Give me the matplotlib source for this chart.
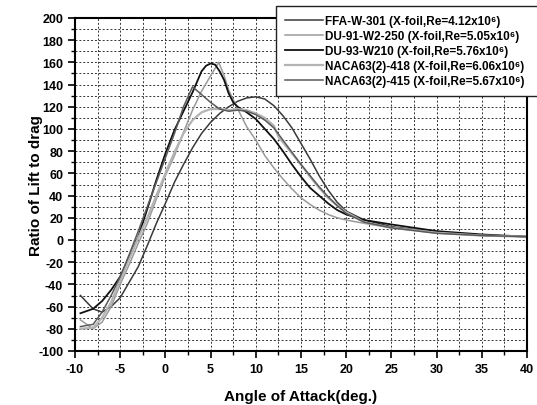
import matplotlib.pyplot as plt
from matplotlib.ticker import MultipleLocator

plt.rcParams["font.family"] = ["Liberation Sans", "DejaVu Sans"]
plt.rcParams["font.weight"] = "bold"
plt.rcParams["axes.unicode_minus"] = False

# angle of attack (deg.) and lift/drag ratio
ffa_alpha = [-9.4, -8, -7, -6, -5, -4, -3, -2, -1, 0, 1, 2, 3, 4, 5, 6, 7, 8, 9,
             10, 11, 12, 13, 14, 15, 16, 17, 18, 19, 20, 22, 25, 30, 35, 40]
ffa_ld = [-50, -62, -65, -60, -52, -38, -24, -5, 15, 33, 52, 68, 83, 96, 106, 114,
          120, 125, 128, 129, 127, 121, 112, 101, 87, 73, 58, 45, 34, 26, 18, 12,
          7, 4.5, 3]

du91_alpha = [-9.4, -8, -7, -6, -5, -4, -3, -2, -1, 0, 1, 2, 3, 4, 5, 5.9, 6.5,
              7, 8, 9, 10, 11, 12, 13, 14, 15, 16, 17, 18, 19, 20, 22, 25, 30, 35, 40]
du91_ld = [-72, -80, -74, -60, -40, -22, -3, 15, 37, 58, 76, 97, 117, 134, 148,
           160, 148, 135, 118, 102, 90, 76, 65, 55, 46, 38, 32, 27, 23, 20, 18,
           15, 11, 7, 4, 3]

du93_alpha = [-9.4, -8, -7, -6, -5, -4, -3, -2, -1, 0, 1, 2, 3, 4, 4.5, 5, 5.5,
              6, 6.5, 7, 7.5, 8, 9, 10, 11, 12, 13, 14, 15, 16, 17, 18, 19, 20,
              22, 25, 30, 35, 40]
du93_ld = [-66, -62, -55, -45, -33, -16, 3, 28, 54, 78, 99, 116, 133, 152, 157,
           159, 158, 152, 144, 132, 124, 120, 115, 109, 100, 91, 80, 68, 57, 47,
           40, 33, 27, 23, 18, 14, 8, 5, 3]

naca418_alpha = [-9.4, -8, -7, -6, -5, -4, -3, -2, -1, 0, 1, 2, 3, 4, 5, 6, 7, 8,
                 9, 10, 11, 12, 12.5, 13, 14, 15, 16, 17, 18, 19, 20, 22, 25, 30,
                 35, 40]
naca418_ld = [-80, -79, -70, -56, -36, -17, 2, 20, 40, 60, 79, 96, 108, 115, 118,
              118, 117, 118, 117, 114, 110, 103, 93, 88, 78, 68, 57, 47, 38, 31,
              25, 16, 11, 6.5, 4, 3]

naca415_alpha = [-9.4, -8, -7, -6, -5, -4, -3, -2, -1, 0, 1, 2, 3, 4, 5, 6, 7, 8,
                 9, 10, 11, 12, 13, 14, 15, 16, 17, 18, 19, 20, 22, 25, 30, 35, 40]
naca415_ld = [-78, -76, -65, -50, -33, -13, 8, 30, 52, 74, 96, 120, 138, 131, 124,
              118, 116, 117, 116, 113, 108, 101, 90, 79, 68, 58, 48, 39, 31, 24,
              16, 11, 6, 4, 3]

labels = [
    "FFA-W-301 (X-foil,Re=4.12x10⁶)",
    "DU-91-W2-250 (X-foil,Re=5.05x10⁶)",
    "DU-93-W210 (X-foil,Re=5.76x10⁶)",
    "NACA63(2)-418 (X-foil,Re=6.06x10⁶)",
    "NACA63(2)-415 (X-foil,Re=5.67x10⁶)",
]
colors = ["#3a3a3a", "#9a9a9a", "#111111", "#b4b4b4", "#5a5a5a"]
widths = [1.1, 1.1, 1.3, 1.6, 1.1]

series = [
    (ffa_alpha, ffa_ld),
    (du91_alpha, du91_ld),
    (du93_alpha, du93_ld),
    (naca418_alpha, naca418_ld),
    (naca415_alpha, naca415_ld),
]

fig = plt.figure(figsize=(5.37, 4.06), dpi=100)
ax = fig.add_axes([75 / 537, 54 / 406, 452 / 537, 333 / 406])

lines = []
for (x, y), label, color, lw in zip(series, labels, colors, widths):
    (line,) = ax.plot(x, y, color=color, lw=lw, label=label)
    lines.append(line)

ax.set_xlim(-10, 40)
ax.set_ylim(-100, 200)
ax.xaxis.set_major_locator(MultipleLocator(5))
ax.xaxis.set_minor_locator(MultipleLocator(2.5))
ax.yaxis.set_major_locator(MultipleLocator(20))
ax.yaxis.set_minor_locator(MultipleLocator(10))
ax.grid(which="both", color="#333333", linestyle=(0, (2, 2)), linewidth=0.7)
ax.set_axisbelow(True)

ax.tick_params(which="major", direction="out", length=5, width=1.2, labelsize=9)
ax.tick_params(which="minor", direction="out", length=3, width=1.0)
for lab in ax.get_xticklabels() + ax.get_yticklabels():
    lab.set_fontweight("bold")
for spine in ax.spines.values():
    spine.set_linewidth(1.5)

ax.set_xlabel("Angle of Attack(deg.)", fontsize=11, fontweight="bold", labelpad=10)
ax.set_ylabel("Ratio of Lift to drag", fontsize=11, fontweight="bold")
ax.yaxis.set_label_coords(-0.07, 0.5)

leg = fig.legend(
    handles=lines,
    loc="upper left",
    bbox_to_anchor=(276 / 537, 1 - 7 / 406, 0.52, 0.0),
    mode="expand",
    borderaxespad=0,
    fontsize=8.5,
    frameon=True,
    fancybox=False,
    framealpha=1,
    edgecolor="#222222",
    handlelength=3.2,
    labelspacing=0.25,
    borderpad=0.75,
    handletextpad=0.2,
)
leg.get_frame().set_linewidth(1.0)
for t in leg.get_texts():
    t.set_fontweight("bold")

fig.savefig("out.png", dpi=100)
